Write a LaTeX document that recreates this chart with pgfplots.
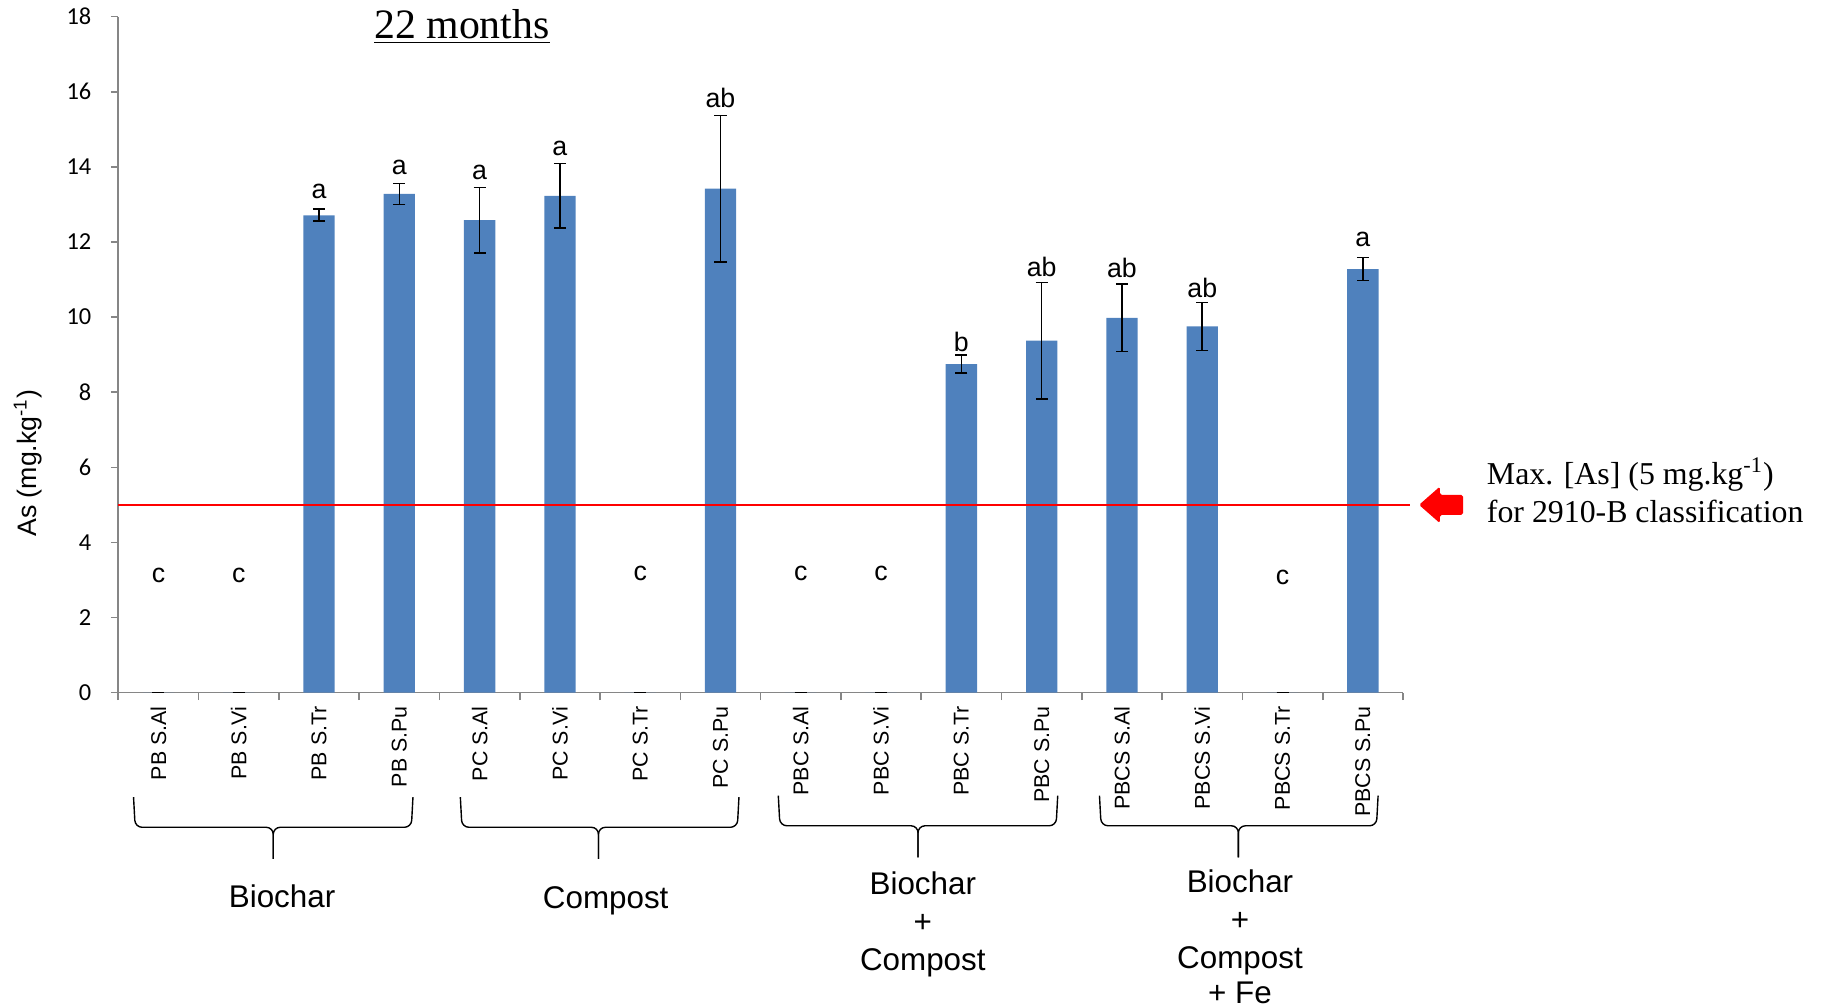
\documentclass[border=0pt]{standalone}
\usepackage{pgfplots}
\pgfplotsset{compat=1.18}
\usepackage{pgfplotstable}
\usepackage{fontspec}
\setmainfont{Liberation Sans}
\newfontfamily\timesf{Liberation Serif}
\newfontfamily\carlito{Carlito}
\definecolor{barblue}{HTML}{4F81BD}
\definecolor{axisgray}{HTML}{868686}

% As concentration after 22 months: mean and standard error per treatment
\pgfplotstableread{
idx  val    err
0    0      0
1    0      0
2    12.71  0.16
3    13.28  0.28
4    12.58  0.87
5    13.23  0.86
6    0      0
7    13.42  1.95
8    0      0
9    0      0
10   8.75   0.24
11   9.37   1.55
12   9.98   0.90
13   9.75   0.64
14   0      0
15   11.28  0.31
}\asdata

% curly bracket under a group of treatments: left end, right end, tip, top
\newcommand{\groupbrace}[4]{%
  \draw[line width=0.6pt, rounded corners=3pt]
    (axis cs:#1,#4) -- ([xshift=0.7pt,yshift=-13pt]axis cs:#1,#4)
    -- ([yshift=-13pt]axis cs:#3,#4) -- ([yshift=-26.6pt]axis cs:#3,#4);
  \draw[line width=0.6pt, rounded corners=3pt]
    (axis cs:#2,#4) -- ([xshift=-0.7pt,yshift=-13pt]axis cs:#2,#4)
    -- ([yshift=-13pt]axis cs:#3,#4) -- ([yshift=-26.6pt]axis cs:#3,#4);
}

\begin{document}
\begin{tikzpicture}
\path[use as bounding box] (-50.9pt,-135.45pt) rectangle (733.1pt,298.05pt);
\begin{axis}[
  scale only axis, width=552.8pt, height=290.9pt,
  xmin=-0.5, xmax=15.5, ymin=0, ymax=18,
  axis x line*=bottom, axis y line*=left,
  axis line style={axisgray, line width=0.7pt},
  clip=false,
  xtick={-0.5,0.5,...,15.5},
  x tick label as interval,
  xticklabels={PB S.Al, PB S.Vi, PB S.Tr, PB S.Pu, PC S.Al, PC S.Vi, PC S.Tr, PC S.Pu,
               PBC S.Al, PBC S.Vi, PBC S.Tr, PBC S.Pu, PBCS S.Al, PBCS S.Vi, PBCS S.Tr, PBCS S.Pu},
  ytick={0,2,...,18},
  tick align=outside,
  major tick length=3.2pt,
  tick style={axisgray, line width=0.7pt},
  xticklabel style={yshift=-2.5pt, rotate=90, anchor=east, font=\fontsize{9.2}{10}\selectfont,
                    inner sep=0pt},
  yticklabel style={font=\carlito\fontsize{10.5}{12}\selectfont, inner sep=0pt, xshift=-8.2pt},
  /pgf/number format/assume math mode=true,
]
\addplot[ybar, bar width=0.39, fill=barblue, draw=none,
  error bars/.cd, y dir=both, y explicit,
  error bar style={draw=black, line width=0.7pt},
  error mark options={rotate=90, draw=black, mark size=2.6pt, line width=0.7pt}]
  table[x=idx, y=val, y error=err] {\asdata};

% regulatory threshold
\draw[red, line width=0.9pt] (axis cs:-0.5,5) -- (axis cs:15.59,5);
\fill[red, rounded corners=0.8pt] (axis cs:15.70,5) -- ++(9pt,7.9pt) -- ++(0pt,-3.65pt)
  -- ++(10pt,0pt) -- ++(0pt,-8.5pt) -- ++(-10pt,0pt) -- ++(0pt,-3.65pt) -- cycle;
\node[anchor=base west, font=\timesf\fontsize{13.7}{16}\selectfont, inner sep=0pt]
  at (axis cs:16.54,5.53) {Max. [As] (5 mg.kg\textsuperscript{-1})};
\node[anchor=base west, font=\timesf\fontsize{13.7}{16}\selectfont, inner sep=0pt]
  at (axis cs:16.54,4.53) {for 2910-B classification};

% title
\node[anchor=base, font=\timesf\fontsize{18}{20}\selectfont, inner sep=0pt]
  at (axis cs:3.78,17.42) {\underline{22 months}};

% y label
\node[rotate=90, anchor=base, font=\fontsize{11.5}{13}\selectfont, inner sep=0pt]
  at ([xshift=-35.1pt]axis cs:-0.5,6.11) {As (mg.kg\textsuperscript{-1})};

% significance letters
\begin{scope}[every node/.style={anchor=base, inner sep=0pt, font=\fontsize{11.5}{13}\selectfont}]
\node at (axis cs:0,2.92) {c};
\node at (axis cs:1,2.92) {c};
\node at (axis cs:2,13.17) {a};
\node at (axis cs:3,13.79) {a};
\node at (axis cs:4,13.66) {a};
\node at (axis cs:5,14.30) {a};
\node at (axis cs:6,2.98) {c};
\node at (axis cs:7,15.57) {ab};
\node at (axis cs:8,2.98) {c};
\node at (axis cs:9,2.98) {c};
\node at (axis cs:10,9.09) {b};
\node at (axis cs:11,11.08) {ab};
\node at (axis cs:12,11.05) {ab};
\node at (axis cs:13,10.52) {ab};
\node at (axis cs:14,2.89) {c};
\node at (axis cs:15,11.87) {a};
\end{scope}

% treatment groups
\groupbrace{-0.31}{3.17}{1.43}{-2.78}
\groupbrace{3.76}{7.23}{5.48}{-2.78}
\groupbrace{7.72}{11.20}{9.46}{-2.74}
\groupbrace{11.72}{15.19}{13.45}{-2.74}
\begin{scope}[every node/.style={anchor=base, inner sep=0pt, font=\fontsize{13.5}{16}\selectfont}]
\node at (axis cs:1.54,-5.71) {Biochar};
\node at (axis cs:5.57,-5.74) {Compost};
\node at (axis cs:9.52,-5.37) {Biochar};
\node at (axis cs:9.52,-6.38) {+};
\node at (axis cs:9.52,-7.39) {Compost};
\node at (axis cs:13.47,-5.32) {Biochar};
\node at (axis cs:13.47,-6.33) {+};
\node at (axis cs:13.47,-7.34) {Compost};
\node at (axis cs:13.47,-8.27) {+ Fe};
\end{scope}
\end{axis}
\end{tikzpicture}
\end{document}
